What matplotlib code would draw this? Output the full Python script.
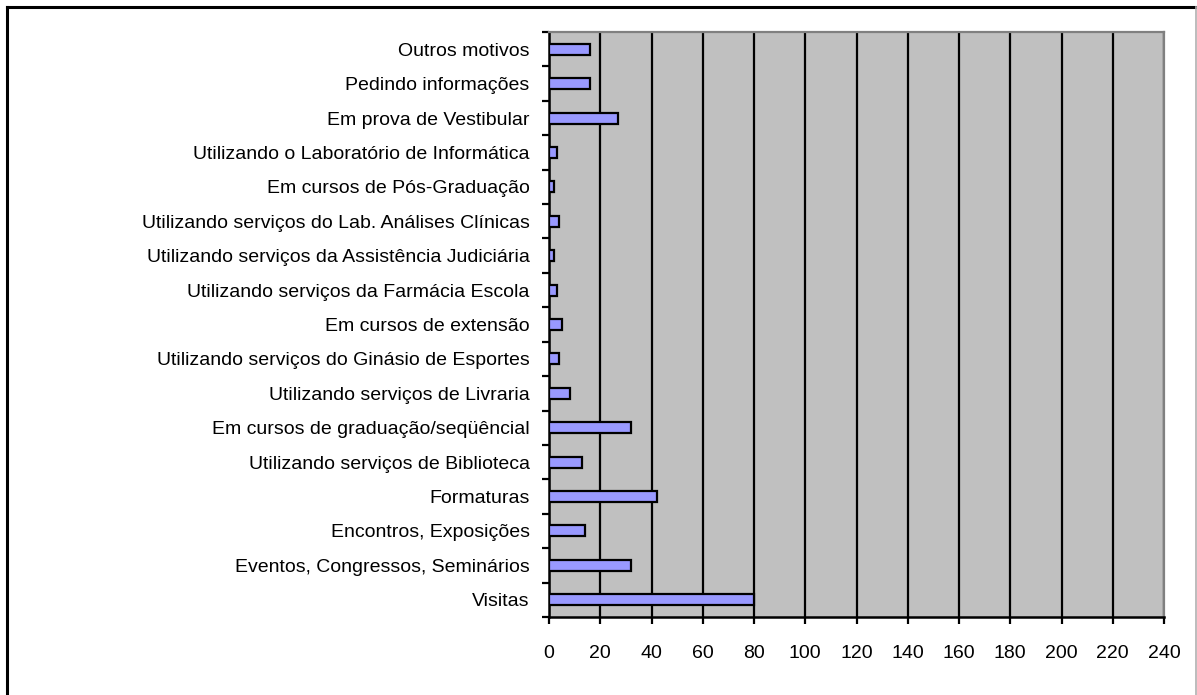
import matplotlib
matplotlib.use("Agg")
import matplotlib.pyplot as plt
from matplotlib.lines import Line2D
import numpy as np

categories = [
    "Visitas",
    "Eventos, Congressos, Seminários",
    "Encontros, Exposições",
    "Formaturas",
    "Utilizando serviços de Biblioteca",
    "Em cursos de graduação/seqüêncial",
    "Utilizando serviços de Livraria",
    "Utilizando serviços do Ginásio de Esportes",
    "Em cursos de extensão",
    "Utilizando serviços da Farmácia Escola",
    "Utilizando serviços da Assistência Judiciária",
    "Utilizando serviços do Lab. Análises Clínicas",
    "Em cursos de Pós-Graduação",
    "Utilizando o Laboratório de Informática",
    "Em prova de Vestibular",
    "Pedindo informações",
    "Outros motivos",
]
values = [80, 32, 14, 42, 13, 32, 8, 4, 5, 3, 2, 4, 2, 3, 27, 16, 16]
xticks = list(range(0, 241, 20))

plt.rcParams['font.family'] = ['Liberation Sans', 'DejaVu Sans']

W, H = 1197, 695
fig = plt.figure(figsize=(W / 100, H / 100), dpi=100)
fig.patch.set_facecolor('white')

ax = fig.add_axes([549 / W, 1 - 617 / H, (1164 - 549) / W, (617 - 32) / H])
ax.set_facecolor('#C0C0C0')

y = np.arange(len(categories))
ax.set_axisbelow(True)
ax.xaxis.grid(True, color='black', linewidth=1.6)
ax.barh(y, values, height=0.32, color='#9999FF', edgecolor='black', linewidth=1.6, zorder=3)

ax.set_xlim(0, 240)
ax.set_ylim(-0.5, len(categories) - 0.5)
ax.set_xticks(xticks)
ax.set_xticklabels([str(t) for t in xticks], fontsize=14)
ax.set_yticks(y)
ax.set_yticklabels(categories, fontsize=14)
ax.set_yticks(np.arange(-0.5, len(categories), 1.0), minor=True)

ax.tick_params(axis='y', which='major', length=0, pad=14)
ax.tick_params(axis='y', which='minor', length=5, width=1.6, direction='out', color='black')
ax.tick_params(axis='x', which='major', length=5, width=1.6, direction='out', pad=15, color='black')

for s in ['left', 'bottom']:
    ax.spines[s].set_color('black')
    ax.spines[s].set_linewidth(1.8)
for s in ['top', 'right']:
    ax.spines[s].set_color('#808080')
    ax.spines[s].set_linewidth(1.6)

# outer frame
def fx(px):
    return px / W

def fy(py):
    return 1 - py / H

fig.add_artist(Line2D([fx(7), fx(1196)], [fy(7), fy(7)], color='black', linewidth=2.2, transform=fig.transFigure))
fig.add_artist(Line2D([fx(7), fx(7)], [fy(7), fy(700)], color='black', linewidth=2.2, transform=fig.transFigure))
fig.add_artist(Line2D([fx(1196), fx(1196)], [fy(7), fy(700)], color='#B0B0B0', linewidth=1.2, transform=fig.transFigure))

fig.savefig('out.png', dpi=100)
